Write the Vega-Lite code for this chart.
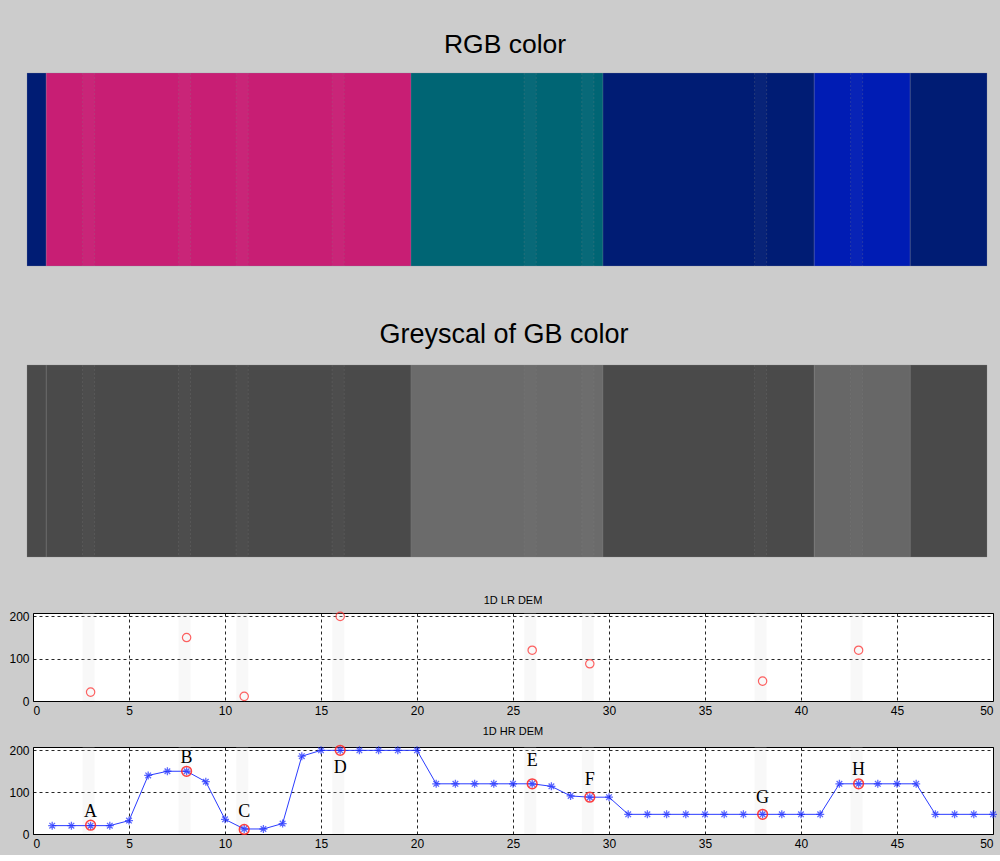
{
  "$schema": "https://vega.github.io/schema/vega-lite/v6.json",
  "background": "#cccccc",
  "padding": {"left": 8, "top": 31, "right": 2, "bottom": 5},
  "datasets": {
    "segments": [
      {"start": 0, "end": 1, "cls": "navy"},
      {"start": 1, "end": 20, "cls": "magenta"},
      {"start": 20, "end": 30, "cls": "teal"},
      {"start": 30, "end": 41, "cls": "navy"},
      {"start": 41, "end": 46, "cls": "blue"},
      {"start": 46, "end": 50, "cls": "navy"}
    ],
    "lr": [
      {"x": 3, "v": 21}, {"x": 8, "v": 150}, {"x": 11, "v": 11}, {"x": 16, "v": 200},
      {"x": 26, "v": 120}, {"x": 29, "v": 88}, {"x": 38, "v": 47}, {"x": 43, "v": 120}
    ],
    "hr": [
      {"x": 1, "v": 20}, {"x": 2, "v": 20}, {"x": 3, "v": 20}, {"x": 4, "v": 20}, {"x": 5, "v": 32},
      {"x": 6, "v": 140}, {"x": 7, "v": 150}, {"x": 8, "v": 150}, {"x": 9, "v": 125}, {"x": 10, "v": 35},
      {"x": 11, "v": 12}, {"x": 12, "v": 12}, {"x": 13, "v": 25}, {"x": 14, "v": 186}, {"x": 15, "v": 200},
      {"x": 16, "v": 200}, {"x": 17, "v": 200}, {"x": 18, "v": 200}, {"x": 19, "v": 200}, {"x": 20, "v": 200},
      {"x": 21, "v": 120}, {"x": 22, "v": 120}, {"x": 23, "v": 120}, {"x": 24, "v": 120}, {"x": 25, "v": 120},
      {"x": 26, "v": 120}, {"x": 27, "v": 114}, {"x": 28, "v": 91}, {"x": 29, "v": 88}, {"x": 30, "v": 88},
      {"x": 31, "v": 47}, {"x": 32, "v": 47}, {"x": 33, "v": 47}, {"x": 34, "v": 47}, {"x": 35, "v": 47},
      {"x": 36, "v": 47}, {"x": 37, "v": 47}, {"x": 38, "v": 47}, {"x": 39, "v": 47}, {"x": 40, "v": 47},
      {"x": 41, "v": 47}, {"x": 42, "v": 120}, {"x": 43, "v": 120}, {"x": 44, "v": 120}, {"x": 45, "v": 120},
      {"x": 46, "v": 120}, {"x": 47, "v": 47}, {"x": 48, "v": 47}, {"x": 49, "v": 47}, {"x": 50, "v": 47}
    ],
    "labels": [
      {"x": 3, "y": 52, "t": "A"}, {"x": 8, "y": 182, "t": "B"}, {"x": 11, "y": 52, "t": "C"},
      {"x": 16, "y": 157, "t": "D"}, {"x": 26, "y": 175, "t": "E"}, {"x": 29, "y": 130, "t": "F"},
      {"x": 38, "y": 87, "t": "G"}, {"x": 43, "y": 153, "t": "H"}
    ]
  },
  "config": {
    "view": {"fill": "white", "stroke": "black", "strokeWidth": 1},
    "axis": {
      "labelFont": "Liberation Sans", "labelFontSize": 12, "labelColor": "#000",
      "domain": false, "ticks": false, "grid": true, "gridColor": "#000",
      "gridDash": [3, 3], "gridOpacity": 0.85, "labelPadding": 4
    },
    "title": {"font": "Liberation Sans", "fontWeight": "normal", "color": "#000", "anchor": "middle", "baseline": "alphabetic"}
  },
  "resolve": {"scale": {"color": "independent"}},
  "spacing": 31,
  "vconcat": [
    {
      "vconcat": [
        {
          "width": 960, "height": 193,
          "title": {"text": "RGB color", "fontSize": 26.5, "offset": 9, "dx": -8},
          "view": {"fill": null, "stroke": null},
          "resolve": {"scale": {"x": "independent"}},
          "layer": [
            {
              "data": {"name": "segments"},
              "mark": {"type": "rect", "stroke": "#8088a0", "strokeWidth": 0.5, "strokeOpacity": 0.5},
              "encoding": {
                "x": {"field": "start", "type": "quantitative", "scale": {"domain": [0, 50], "nice": false, "range": [-6, 954]}, "axis": null},
                "x2": {"field": "end"},
                "color": {"field": "cls", "type": "nominal", "scale": {"domain": ["navy", "magenta", "teal", "blue"], "range": ["#001c74", "#c81e74", "#006574", "#001cb4"]}, "legend": null}
              }
            },
            {
              "layer": [
                {
                  "data": {"name": "lr"},
                  "mark": {"type": "rule", "strokeWidth": 12, "color": "#ffffff", "opacity": 0.03, "xOffset": -2},
                  "encoding": {"x": {"field": "x", "type": "quantitative", "scale": {"domain": [0, 50], "nice": false}, "axis": null}}
                },
                {
                  "data": {"name": "lr"},
                  "mark": {"type": "rule", "strokeWidth": 1, "color": "#888888", "opacity": 0.25, "strokeDash": [2, 2], "xOffset": -8},
                  "encoding": {"x": {"field": "x", "type": "quantitative"}}
                },
                {
                  "data": {"name": "lr"},
                  "mark": {"type": "rule", "strokeWidth": 1, "color": "#888888", "opacity": 0.25, "strokeDash": [2, 2], "xOffset": 4},
                  "encoding": {"x": {"field": "x", "type": "quantitative"}}
                }
              ]
            }
          ]
        },
        {
          "width": 960, "height": 192,
          "title": {"text": "Greyscal of GB color", "fontSize": 27, "offset": 10, "dx": -9},
          "view": {"fill": null, "stroke": null},
          "resolve": {"scale": {"x": "independent"}},
          "layer": [
            {
              "data": {"name": "segments"},
              "mark": {"type": "rect", "stroke": "#888888", "strokeWidth": 0.5, "strokeOpacity": 0.5},
              "encoding": {
                "x": {"field": "start", "type": "quantitative", "scale": {"domain": [0, 50], "nice": false, "range": [-6, 954]}, "axis": null},
                "x2": {"field": "end"},
                "color": {"field": "cls", "type": "nominal", "scale": {"domain": ["navy", "magenta", "teal", "blue"], "range": ["#4a4a4a", "#4a4a4a", "#6b6b6b", "#676767"]}, "legend": null}
              }
            },
            {
              "layer": [
                {
                  "data": {"name": "lr"},
                  "mark": {"type": "rule", "strokeWidth": 12, "color": "#ffffff", "opacity": 0.02, "xOffset": -2},
                  "encoding": {"x": {"field": "x", "type": "quantitative", "scale": {"domain": [0, 50], "nice": false}, "axis": null}}
                },
                {
                  "data": {"name": "lr"},
                  "mark": {"type": "rule", "strokeWidth": 1, "color": "#888888", "opacity": 0.22, "strokeDash": [2, 2], "xOffset": -8},
                  "encoding": {"x": {"field": "x", "type": "quantitative"}}
                },
                {
                  "data": {"name": "lr"},
                  "mark": {"type": "rule", "strokeWidth": 1, "color": "#888888", "opacity": 0.22, "strokeDash": [2, 2], "xOffset": 4},
                  "encoding": {"x": {"field": "x", "type": "quantitative"}}
                }
              ]
            }
          ]
        }
      ],
      "spacing": 49,
      "resolve": {"scale": {"color": "independent"}}
    },
    {
      "vconcat": [
        {
          "width": 960, "height": 88,
          "title": {"text": "1D LR DEM", "fontSize": 11, "offset": 1},
          "layer": [
            {
              "data": {"name": "lr"},
              "mark": {"type": "rule", "strokeWidth": 12, "color": "#dddddd", "opacity": 0.2, "xOffset": -2},
              "encoding": {"x": {"field": "x", "type": "quantitative"}}
            },
            {
              "data": {"name": "lr"},
              "mark": {"type": "point", "shape": "circle", "size": 70, "filled": false, "stroke": "#ff2020", "strokeWidth": 1.2},
              "encoding": {
                "x": {"field": "x", "type": "quantitative", "scale": {"domain": [0, 50], "nice": false}, "axis": {"title": null, "values": [0, 5, 10, 15, 20, 25, 30, 35, 40, 45, 50]}},
                "y": {"field": "v", "type": "quantitative", "scale": {"domain": [0, 208], "nice": false}, "axis": {"title": null, "values": [0, 100, 200]}}
              }
            }
          ]
        },
        {
          "width": 960, "height": 87,
          "title": {"text": "1D HR DEM", "fontSize": 11, "offset": 4},
          "layer": [
            {
              "data": {"name": "lr"},
              "mark": {"type": "rule", "strokeWidth": 12, "color": "#dddddd", "opacity": 0.2, "xOffset": -2},
              "encoding": {"x": {"field": "x", "type": "quantitative"}}
            },
            {
              "data": {"name": "hr"},
              "mark": {"type": "line", "color": "#2b3cff", "strokeWidth": 1},
              "encoding": {
                "x": {"field": "x", "type": "quantitative", "scale": {"domain": [0, 50], "nice": false}, "axis": {"title": null, "values": [0, 5, 10, 15, 20, 25, 30, 35, 40, 45, 50]}},
                "y": {"field": "v", "type": "quantitative", "scale": {"domain": [0, 208], "nice": false}, "axis": {"title": null, "values": [0, 100, 200]}}
              }
            },
            {
              "data": {"name": "hr"},
              "mark": {"type": "point", "shape": "M0,-1L0,1M-1,0L1,0M-0.7,-0.7L0.7,0.7M-0.7,0.7L0.7,-0.7", "size": 64, "filled": false, "stroke": "#1a2bff", "strokeWidth": 1.3},
              "encoding": {
                "x": {"field": "x", "type": "quantitative"},
                "y": {"field": "v", "type": "quantitative"}
              }
            },
            {
              "data": {"name": "lr"},
              "mark": {"type": "point", "shape": "circle", "size": 95, "filled": false, "stroke": "#ff2020", "strokeWidth": 1.5, "opacity": 0.85},
              "encoding": {
                "x": {"field": "x", "type": "quantitative"},
                "y": {"field": "v", "type": "quantitative"}
              }
            },
            {
              "data": {"name": "labels"},
              "mark": {"type": "text", "font": "Liberation Serif", "fontSize": 18, "color": "#000", "baseline": "middle"},
              "encoding": {
                "x": {"field": "x", "type": "quantitative"},
                "y": {"field": "y", "type": "quantitative"},
                "text": {"field": "t"}
              }
            }
          ]
        }
      ],
      "spacing": 8
    }
  ]
}
